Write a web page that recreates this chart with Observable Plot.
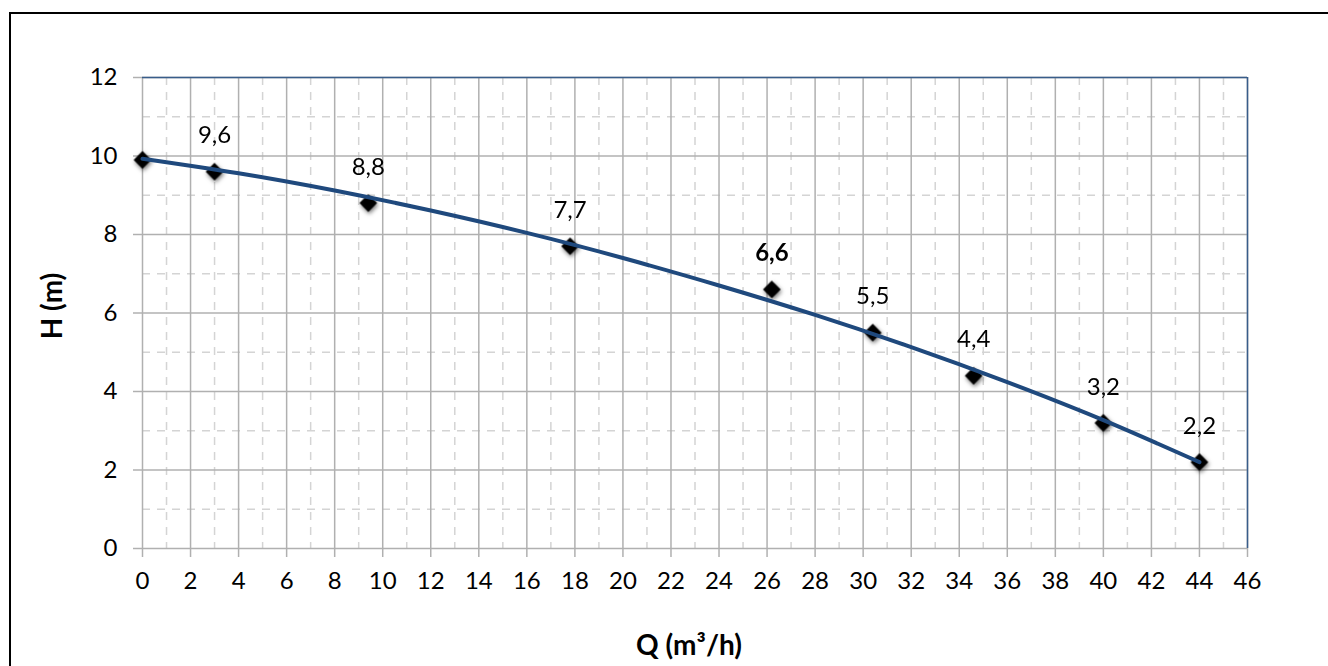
<!DOCTYPE html>
<html><head><meta charset="utf-8">
<script src="https://cdn.jsdelivr.net/npm/d3@7"></script>
<script src="https://cdn.jsdelivr.net/npm/@observablehq/plot@0.6"></script>
<style>
html,body{margin:0;padding:0;background:#fff;overflow:hidden;}
#wrap{position:relative;width:1328px;height:666px;}
#border{position:absolute;left:9px;top:12px;width:2000px;height:1000px;border-left:2px solid #000;border-top:2px solid #000;pointer-events:none;}
.pts{filter:drop-shadow(1px 2px 2px rgba(0,0,0,0.55));}
</style></head><body>
<div id="wrap"><div id="border"></div></div>
<script>
// measured pump points
const flowQ = [0, 3, 9.4, 17.8, 26.2, 30.4, 34.6, 40, 44];
const headH = [9.9, 9.6, 8.8, 7.7, 6.6, 5.5, 4.4, 3.2, 2.2];
// trend curve
const trendQ = [0, 4, 8, 12, 16, 20, 24, 28, 32, 36, 40, 44];
const trendH = [9.93, 9.56, 9.12, 8.61, 8.04, 7.40, 6.70, 5.95, 5.13, 4.24, 3.27, 2.2];
// ticks
const xTicks = [0,2,4,6,8,10,12,14,16,18,20,22,24,26,28,30,32,34,36,38,40,42,44,46];
const xMinor = [1,3,5,7,9,11,13,15,17,19,21,23,25,27,29,31,33,35,37,39,41,43,45];
const yTicks = [0,2,4,6,8,10,12];
const yMinor = [1,3,5,7,9,11];
const boldLabelIndex = 4;
const xTitle = "Q (m³/h)";
const yTitle = "H (m)";

const pts = flowQ.map((q, i) => ({q, h: headH[i], i}));
const trend = trendQ.map((q, i) => ({q, h: trendH[i]}));
const fmt = v => String(v).replace(".", ",");
const labelPts = pts.filter(d => d.i > 0 && d.i !== boldLabelIndex);
const boldPts = pts.filter(d => d.i === boldLabelIndex);

const font = "Lato, 'Open Sans', sans-serif";
const chart = Plot.plot({
  width: 1328,
  height: 666,
  marginLeft: 142,
  marginRight: 81,
  marginTop: 77,
  marginBottom: 118,
  style: {fontFamily: font, fontSize: "24px", color: "black", background: "transparent", overflow: "visible"},
  x: {domain: [0, 46]},
  y: {domain: [0, 12]},
  marks: [
    Plot.gridX(xMinor, {stroke: "#d4d4d4", strokeOpacity: 1, strokeWidth: 1.5, strokeDasharray: "8,7"}),
    Plot.gridY(yMinor, {stroke: "#d4d4d4", strokeOpacity: 1, strokeWidth: 1.5, strokeDasharray: "8,7"}),
    Plot.gridX(xTicks, {stroke: "#b0b0b0", strokeOpacity: 1, strokeWidth: 1.5}),
    Plot.gridY(yTicks, {stroke: "#b0b0b0", strokeOpacity: 1, strokeWidth: 1.5}),
    Plot.ruleY([12], {stroke: "#385d8a", strokeWidth: 1.5}),
    Plot.ruleX([46], {stroke: "#385d8a", strokeWidth: 1.5}),
    Plot.axisX({ticks: xTicks, tickSize: 9, tickPadding: 14, stroke: "#b0b0b0", strokeWidth: 1.5, fill: "black", fontSize: 24, label: null, tickFormat: d => d}),
    Plot.axisY({ticks: yTicks, tickSize: 9, tickPadding: 16, stroke: "#b0b0b0", strokeWidth: 1.5, fill: "black", fontSize: 24, label: null, tickFormat: d => d}),
    Plot.dot(pts, {x: "q", y: "h", symbol: "diamond2", r: 7, fill: "black", stroke: "black", className: "pts"}),
    Plot.line(trend, {x: "q", y: "h", curve: "natural", stroke: "#1f497d", strokeWidth: 4}),
    Plot.text(labelPts, {x: "q", y: "h", text: d => fmt(d.h), dy: -36, fontSize: 24, fill: "black"}),
    Plot.text(boldPts, {x: "q", y: "h", text: d => fmt(d.h), dy: -36, fontSize: 24, fontWeight: "bold", fill: "black"}),
    Plot.text([xTitle], {frameAnchor: "bottom", textAnchor: "middle", lineAnchor: "middle", dy: 98, dx: -6, fontSize: 28, fontWeight: "bold", fill: "black"}),
    Plot.text([yTitle], {frameAnchor: "left", textAnchor: "middle", lineAnchor: "middle", dx: -89, dy: -7, rotate: -90, fontSize: 28, fontWeight: "bold", fill: "black"})
  ]
});
document.getElementById("wrap").prepend(chart);
</script>
</body></html>
